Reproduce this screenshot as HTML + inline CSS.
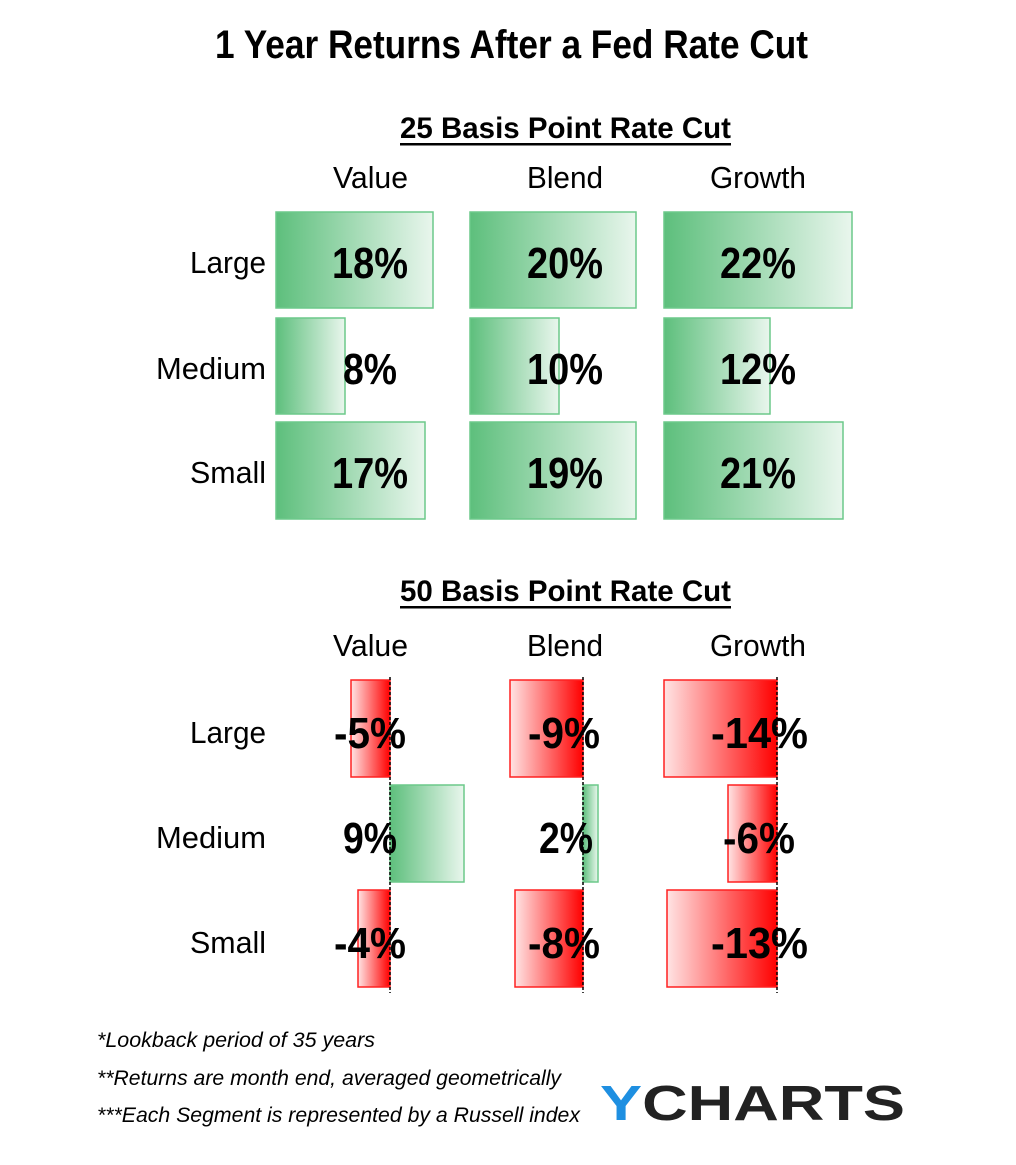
<!DOCTYPE html>
<html><head><style>
body{margin:0;background:#fff;width:1016px;height:1160px;overflow:hidden;}
svg text{font-family:"Liberation Sans Narrow","Liberation Sans",sans-serif;}
</style></head><body>
<svg width="1016" height="1160" xmlns="http://www.w3.org/2000/svg">
<defs>
<linearGradient id="g" x1="0" x2="1" y1="0" y2="0"><stop offset="0" stop-color="#5dbf7c"/><stop offset="1" stop-color="#e9f6ed"/></linearGradient>
<linearGradient id="r" x1="0" x2="1" y1="0" y2="0"><stop offset="0" stop-color="#ffe4e4"/><stop offset="1" stop-color="#ff0000"/></linearGradient>
</defs>
<text x="215" y="58" font-size="40" font-weight="bold" fill="#000" textLength="593" lengthAdjust="spacingAndGlyphs">1 Year Returns After a Fed Rate Cut</text>

<text x="400" y="138" font-size="30" font-weight="bold" textLength="331" lengthAdjust="spacingAndGlyphs">25 Basis Point Rate Cut</text>
<rect x="400" y="143" width="331" height="2.5" fill="#000"/>
<g font-size="31">
<text x="333" y="188" textLength="75" lengthAdjust="spacingAndGlyphs">Value</text><text x="527" y="188" textLength="76" lengthAdjust="spacingAndGlyphs">Blend</text><text x="710" y="188" textLength="96" lengthAdjust="spacingAndGlyphs">Growth</text>
<text x="190" y="273" textLength="76" lengthAdjust="spacingAndGlyphs">Large</text><text x="156" y="379" textLength="110" lengthAdjust="spacingAndGlyphs">Medium</text><text x="190" y="483" textLength="76" lengthAdjust="spacingAndGlyphs">Small</text>
</g>
<g fill="url(#g)" stroke="#6cc98a" stroke-width="1.5">
<rect x="276" y="212" width="157" height="96"/><rect x="470" y="212" width="166" height="96"/><rect x="664" y="212" width="188" height="96"/>
<rect x="276" y="318" width="69" height="96"/><rect x="470" y="318" width="89" height="96"/><rect x="664" y="318" width="106" height="96"/>
<rect x="276" y="422" width="149" height="97"/><rect x="470" y="422" width="166" height="97"/><rect x="664" y="422" width="179" height="97"/>
</g>
<g font-size="44" font-weight="bold">
<text x="332" y="278" textLength="76" lengthAdjust="spacingAndGlyphs">18%</text><text x="527" y="278" textLength="76" lengthAdjust="spacingAndGlyphs">20%</text><text x="720" y="278" textLength="76" lengthAdjust="spacingAndGlyphs">22%</text>
<text x="343" y="384" textLength="54" lengthAdjust="spacingAndGlyphs">8%</text><text x="527" y="384" textLength="76" lengthAdjust="spacingAndGlyphs">10%</text><text x="720" y="384" textLength="76" lengthAdjust="spacingAndGlyphs">12%</text>
<text x="332" y="488" textLength="76" lengthAdjust="spacingAndGlyphs">17%</text><text x="527" y="488" textLength="76" lengthAdjust="spacingAndGlyphs">19%</text><text x="720" y="488" textLength="76" lengthAdjust="spacingAndGlyphs">21%</text>
</g>

<text x="400" y="601" font-size="30" font-weight="bold" textLength="331" lengthAdjust="spacingAndGlyphs">50 Basis Point Rate Cut</text>
<rect x="400" y="606" width="331" height="2.5" fill="#000"/>
<g font-size="31">
<text x="333" y="656" textLength="75" lengthAdjust="spacingAndGlyphs">Value</text><text x="527" y="656" textLength="76" lengthAdjust="spacingAndGlyphs">Blend</text><text x="710" y="656" textLength="96" lengthAdjust="spacingAndGlyphs">Growth</text>
<text x="190" y="743" textLength="76" lengthAdjust="spacingAndGlyphs">Large</text><text x="156" y="848" textLength="110" lengthAdjust="spacingAndGlyphs">Medium</text><text x="190" y="953" textLength="76" lengthAdjust="spacingAndGlyphs">Small</text>
</g>
<g fill="url(#r)" stroke="#ff2020" stroke-width="1.5">
<rect x="351" y="680" width="39" height="97"/><rect x="510" y="680" width="73" height="97"/><rect x="664" y="680" width="113" height="97"/>
<rect x="728" y="785" width="49" height="97"/>
<rect x="358" y="890" width="32" height="97"/><rect x="515" y="890" width="68" height="97"/><rect x="667" y="890" width="110" height="97"/>
</g>
<g fill="url(#g)" stroke="#6cc98a" stroke-width="1.5">
<rect x="390" y="785" width="74" height="97"/><rect x="583" y="785" width="15" height="97"/>
</g>
<g stroke="#000" stroke-width="1.5" stroke-dasharray="3,2">
<line x1="390" y1="677" x2="390" y2="993"/><line x1="583" y1="677" x2="583" y2="993"/><line x1="777" y1="677" x2="777" y2="993"/>
</g>
<g font-size="44" font-weight="bold">
<text x="334" y="748" textLength="72" lengthAdjust="spacingAndGlyphs">-5%</text><text x="528" y="748" textLength="72" lengthAdjust="spacingAndGlyphs">-9%</text><text x="711" y="748" textLength="97" lengthAdjust="spacingAndGlyphs">-14%</text>
<text x="343" y="853" textLength="54" lengthAdjust="spacingAndGlyphs">9%</text><text x="539" y="853" textLength="54" lengthAdjust="spacingAndGlyphs">2%</text><text x="723" y="853" textLength="72" lengthAdjust="spacingAndGlyphs">-6%</text>
<text x="334" y="958" textLength="72" lengthAdjust="spacingAndGlyphs">-4%</text><text x="528" y="958" textLength="72" lengthAdjust="spacingAndGlyphs">-8%</text><text x="711" y="958" textLength="97" lengthAdjust="spacingAndGlyphs">-13%</text>
</g>

<g font-size="21" font-style="italic">
<text x="97" y="1047" textLength="278" lengthAdjust="spacingAndGlyphs">*Lookback period of 35 years</text>
<text x="97" y="1085" textLength="464" lengthAdjust="spacingAndGlyphs">**Returns are month end, averaged geometrically</text>
<text x="97" y="1122" textLength="483" lengthAdjust="spacingAndGlyphs">***Each Segment is represented by a Russell index</text>
</g>
<text x="600" y="1120" font-family="Liberation Sans,sans-serif" font-size="49" font-weight="bold" fill="#222" textLength="305" lengthAdjust="spacingAndGlyphs"><tspan fill="#1e8fe1">Y</tspan>CHARTS</text>
</svg>
</body></html>
